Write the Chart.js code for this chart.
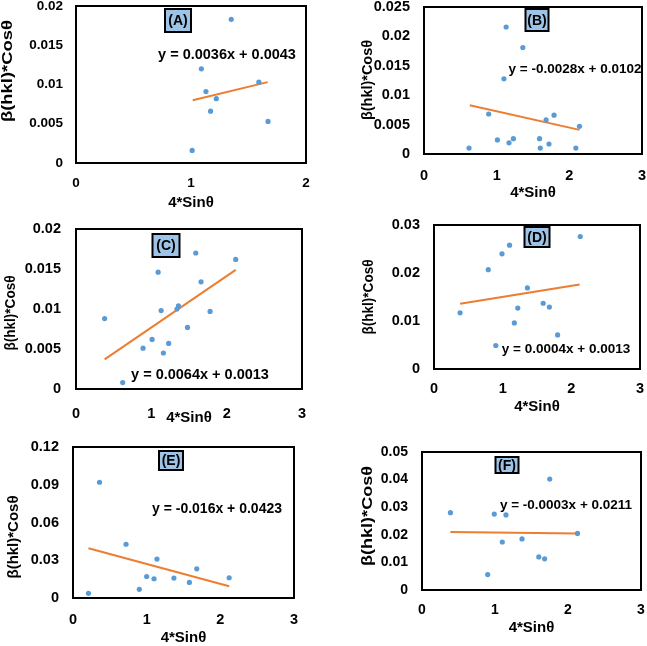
<!DOCTYPE html>
<html>
<head>
<meta charset="utf-8">
<script src="https://cdn.jsdelivr.net/npm/chart.js@4.4.0/dist/chart.umd.min.js"></script>
<style>
  body { margin: 0; background: #fff; }
  #wrap { position: relative; width: 647px; height: 646px; }
  canvas { position: absolute; left: 0; top: 0; }
</style>
</head>
<body>
<div id="wrap">
  <canvas id="cA" width="647" height="646"></canvas>
  <canvas id="cB" width="647" height="646"></canvas>
  <canvas id="cC" width="647" height="646"></canvas>
  <canvas id="cD" width="647" height="646"></canvas>
  <canvas id="cE" width="647" height="646"></canvas>
  <canvas id="cF" width="647" height="646"></canvas>
</div>
<script>
// data
const xA = [1.35, 1.09, 1.13, 1.22, 1.17, 1.59, 1.67, 1.01]
const yA = [0.0183, 0.0120, 0.0091, 0.0082, 0.0066, 0.0103, 0.0053, 0.0016]
const trendXA = [1.015, 1.667]
const trendYA = [0.0080, 0.0103]
const eqA = 'y = 0.0036x + 0.0043'

const xB = [0.62, 0.89, 1.01, 1.13, 1.10, 1.17, 1.23, 1.36, 1.59, 1.60, 1.68, 1.72, 1.79, 2.09, 2.14]
const yB = [0.0010, 0.0068, 0.0024, 0.0216, 0.0128, 0.0019, 0.0026, 0.0181, 0.0026, 0.0010, 0.0058, 0.0017, 0.0066, 0.0010, 0.0047]
const trendXB = [0.63, 2.14]
const trendYB = [0.0083, 0.0041]
const eqB = 'y = -0.0028x + 0.0102'

const xC = [0.38, 0.62, 0.89, 1.01, 1.09, 1.13, 1.16, 1.23, 1.34, 1.36, 1.48, 1.59, 1.66, 1.78, 2.12]
const yC = [0.0088, 0.0008, 0.0051, 0.0062, 0.0146, 0.0098, 0.0045, 0.0057, 0.0100, 0.0104, 0.0077, 0.0170, 0.0134, 0.0097, 0.0162]
const trendXC = [0.38, 2.12]
const trendYC = [0.0037, 0.0149]
const eqC = 'y = 0.0064x + 0.0013'

const xD = [0.38, 0.79, 0.90, 0.99, 1.10, 1.17, 1.22, 1.36, 1.59, 1.68, 1.80, 2.13]
const yD = [0.0117, 0.0207, 0.0049, 0.0240, 0.0258, 0.0096, 0.0127, 0.0169, 0.0137, 0.0129, 0.0071, 0.0276]
const trendXD = [0.38, 2.12]
const trendYD = [0.0136, 0.0176]
const eqD = 'y = 0.0004x + 0.0013'

const xE = [0.21, 0.36, 0.72, 0.90, 1.00, 1.10, 1.14, 1.37, 1.58, 1.68, 2.12]
const yE = [0.0037, 0.0920, 0.0427, 0.0069, 0.0171, 0.0153, 0.0309, 0.0158, 0.0124, 0.0232, 0.0161]
const trendXE = [0.21, 2.12]
const trendYE = [0.0395, 0.0093]
const eqE = 'y = -0.016x + 0.0423'

const xF = [0.39, 0.90, 0.99, 1.10, 1.15, 1.37, 1.60, 1.68, 1.75, 2.13]
const yF = [0.0280, 0.0056, 0.0275, 0.0174, 0.0272, 0.0185, 0.0120, 0.0113, 0.0402, 0.0205]
const trendXF = [0.39, 2.13]
const trendYF = [0.0210, 0.0205]
const eqF = 'y = -0.0003x + 0.0211'

// tick labels
const xTicks2 = ['0', '1', '2']
const xTicks3 = ['0', '1', '2', '3']
const yTicksA = ['0', '0.005', '0.01', '0.015', '0.02']
const yTicksB = ['0', '0.005', '0.01', '0.015', '0.02', '0.025']
const yTicksC = ['0', '0.005', '0.01', '0.015', '0.02']
const yTicksD = ['0', '0.01', '0.02', '0.03']
const yTicksE = ['0', '0.03', '0.06', '0.09', '0.12']
const yTicksF = ['0', '0.01', '0.02', '0.03', '0.04', '0.05']

const xTitle = '4*Sinθ'
const yTitle = 'β(hkl)*Cosθ'

const FONT = '"Liberation Sans", Arial, sans-serif'
Chart.defaults.font.family = FONT
Chart.defaults.font.weight = 'bold'
Chart.defaults.color = '#000'

// page layout of every panel
const panels = [
  { id: 'cA', label: '(A)', x: xA, y: yA, tx: trendXA, ty: trendYA, eq: eqA, xt: xTicks2, yt: yTicksA,
    area: { l: 76, t: 6, r: 306, b: 163 }, box: { cx: 178, t: 9, w: 26, h: 23 },
    eqPos: [227, 55, 14.5], xTitleY: 203, yTitlePos: [8, 71, 102], tickSize: 13.5, xPad: 12, yPad: 13 },
  { id: 'cB', label: '(B)', x: xB, y: yB, tx: trendXB, ty: trendYB, eq: eqB, xt: xTicks3, yt: yTicksB,
    area: { l: 424, t: 7, r: 642, b: 154 }, box: { cx: 537, t: 9, w: 23, h: 22 },
    eqPos: [575, 69, 13.5], xTitleY: 193, yTitlePos: [368, 80, 80], tickSize: 14.5, xPad: 13, yPad: 14 },
  { id: 'cC', label: '(C)', x: xC, y: yC, tx: trendXC, ty: trendYC, eq: eqC, xt: xTicks3, yt: yTicksC,
    area: { l: 76, t: 229, r: 302, b: 389 }, box: { cx: 166, t: 234, w: 27, h: 23 },
    eqPos: [200, 375, 14.5], xTitleY: 418, yTitlePos: [11, 313, 75], tickSize: 14.5, xPad: 16, yPad: 15 },
  { id: 'cD', label: '(D)', x: xD, y: yD, tx: trendXD, ty: trendYD, eq: eqD, xt: xTicks3, yt: yTicksD,
    area: { l: 434, t: 225, r: 640, b: 369 }, box: { cx: 537, t: 227, w: 25, h: 20 },
    eqPos: [566, 349, 13.5], xTitleY: 407, yTitlePos: [369, 297, 75], tickSize: 14.5, xPad: 11, yPad: 14 },
  { id: 'cE', label: '(E)', x: xE, y: yE, tx: trendXE, ty: trendYE, eq: eqE, xt: xTicks3, yt: yTicksE,
    area: { l: 73, t: 447, r: 294, b: 598 }, box: { cx: 171, t: 451, w: 24, h: 19 },
    eqPos: [217, 509, 14], xTitleY: 638, yTitlePos: [14, 537, 83], tickSize: 14.5, xPad: 13, yPad: 14 },
  { id: 'cF', label: '(F)', x: xF, y: yF, tx: trendXF, ty: trendYF, eq: eqF, xt: xTicks3, yt: yTicksF,
    area: { l: 422, t: 452, r: 641, b: 590 }, box: { cx: 507, t: 457, w: 23, h: 16 },
    eqPos: [566, 505, 13.5], xTitleY: 628, yTitlePos: [368, 516, 100], tickSize: 14, xPad: 12, yPad: 14 }
]

// frame, panel tag, equation and axis titles
const decor = {
  id: 'decor',
  beforeDatasetsDraw(chart, args, o) {
    const { ctx, chartArea: a } = chart
    ctx.save()
    ctx.lineWidth = 2
    ctx.strokeStyle = '#000'
    ctx.strokeRect(a.left, a.top, a.right - a.left, a.bottom - a.top)
    ctx.restore()
  },
  afterDraw(chart, args, o) {
    const { ctx, chartArea: a } = chart
    const b = o.box
    ctx.save()
    ctx.fillStyle = '#9dc3e6'
    ctx.fillRect(b.cx - b.w / 2, b.t, b.w, b.h)
    ctx.lineWidth = 2
    ctx.strokeStyle = '#000'
    ctx.strokeRect(b.cx - b.w / 2, b.t, b.w, b.h)
    ctx.fillStyle = '#000'
    ctx.textAlign = 'center'
    ctx.textBaseline = 'middle'
    ctx.font = 'bold 14px ' + FONT
    ctx.fillText(o.label, b.cx, b.t + b.h / 2 + 1)

    ctx.font = 'bold ' + o.eqPos[2] + 'px ' + FONT
    ctx.fillText(o.eq, o.eqPos[0], o.eqPos[1])

    ctx.font = 'bold 15px ' + FONT
    ctx.fillText(xTitle, (a.left + a.right) / 2, o.xTitleY)

    ctx.font = 'bold 14px ' + FONT
    const w = ctx.measureText(yTitle).width
    ctx.translate(o.yTitlePos[0], o.yTitlePos[1])
    ctx.rotate(-Math.PI / 2)
    ctx.scale(o.yTitlePos[2] / w, 1)
    ctx.fillText(yTitle, 0, 0)
    ctx.restore()
  }
}

panels.forEach(p => {
  const xVals = p.xt.map(Number)
  const yVals = p.yt.map(Number)
  new Chart(document.getElementById(p.id), {
    type: 'scatter',
    data: {
      datasets: [{
        data: p.x.map((v, i) => ({ x: v, y: p.y[i] })),
        backgroundColor: '#5b9bd5',
        borderColor: '#5b9bd5',
        borderWidth: 0,
        pointRadius: 2.6
      }, {
        data: p.tx.map((v, i) => ({ x: v, y: p.ty[i] })),
        showLine: true,
        borderColor: '#ed7d31',
        borderWidth: 2,
        pointRadius: 0
      }]
    },
    options: {
      responsive: false,
      animation: false,
      devicePixelRatio: 1,
      layout: { padding: { left: 0, top: p.area.t, right: 647 - p.area.r, bottom: 0 } },
      scales: {
        x: {
          type: 'linear',
          min: xVals[0],
          max: xVals[xVals.length - 1],
          grid: { display: false, drawTicks: false },
          border: { display: false },
          afterBuildTicks: s => { s.ticks = xVals.map(v => ({ value: v })) },
          afterFit: s => { s.height = 646 - p.area.b; s.paddingLeft = 0; s.paddingRight = 0 },
          ticks: {
            autoSkip: false,
            maxRotation: 0,
            padding: p.xPad,
            font: { size: p.tickSize, weight: 'bold' },
            callback: (v, i) => p.xt[i]
          }
        },
        y: {
          type: 'linear',
          min: yVals[0],
          max: yVals[yVals.length - 1],
          grid: { display: false, drawTicks: false },
          border: { display: false },
          afterBuildTicks: s => { s.ticks = yVals.map(v => ({ value: v })) },
          afterFit: s => { s.width = p.area.l; s.paddingTop = 0; s.paddingBottom = 0 },
          ticks: {
            autoSkip: false,
            padding: p.yPad,
            font: { size: p.tickSize, weight: 'bold' },
            callback: (v, i) => p.yt[i]
          }
        }
      },
      plugins: {
        legend: { display: false },
        tooltip: { enabled: false },
        decor: p
      }
    },
    plugins: [decor]
  })
})
</script>
</body>
</html>
